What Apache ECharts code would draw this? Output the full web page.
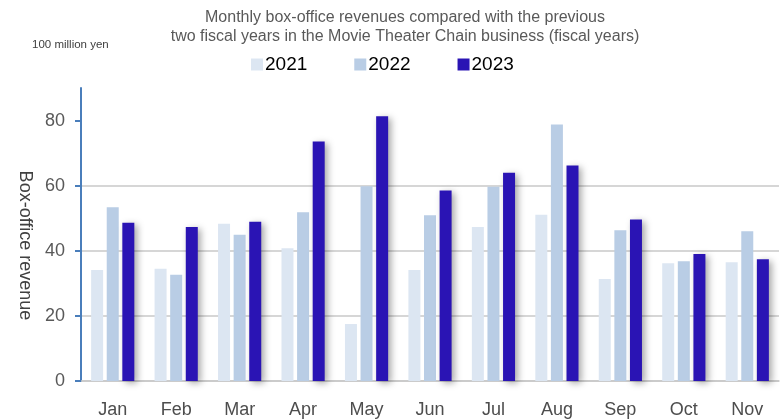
<!DOCTYPE html>
<html>
<head>
<meta charset="utf-8">
<script src="https://cdn.jsdelivr.net/npm/echarts@6/dist/echarts.min.js"></script>
<style>
    html, body { margin: 0; padding: 0; background: #fff; }
    #myChart { width: 781px; height: 419px; }
</style>
</head>
<body>
<div id="myChart"></div>
<script>
    // data (100 million yen)
    const months = ['Jan', 'Feb', 'Mar', 'Apr', 'May', 'Jun', 'Jul', 'Aug', 'Sep', 'Oct', 'Nov'];
    const years = ['2021', '2022', '2023'];
    const fy2021 = [34.1, 34.5, 48.3, 40.8, 17.5, 34.1, 47.3, 51.1, 31.3, 36.2, 36.5];
    const fy2022 = [53.4, 32.6, 44.9, 51.8, 59.8, 50.9, 59.7, 78.8, 46.3, 36.8, 46.0];
    const fy2023 = [48.6, 47.3, 48.9, 73.6, 81.3, 58.5, 64.0, 66.2, 49.6, 39.0, 37.4];
    const yTicks = [0, 20, 40, 60, 80];

    const font = 'Liberation Sans, Arial, sans-serif';
    const colors = ['#dce6f2', '#b9cde5', '#2a14b4'];

    let myChart = echarts.init(document.getElementById('myChart'));
    myChart.setOption({
        animation: false,
        textStyle: { fontFamily: font },
        title: [
            {
                text: 'Monthly box-office revenues compared with the previous\ntwo fiscal years in the Movie Theater Chain business (fiscal years)',
                left: 400,
                top: 3,
                textAlign: 'center',
                textStyle: { fontSize: 16, fontWeight: 'normal', color: '#595959', lineHeight: 19, fontFamily: font }
            },
            {
                text: '100 million yen',
                left: 27,
                top: 34,
                textStyle: { fontSize: 11.5, fontWeight: 'normal', color: '#404040', fontFamily: font }
            }
        ],
        legend: {
            data: years,
            left: 246,
            top: 50,
            itemWidth: 12,
            itemHeight: 12,
            itemGap: 47,
            icon: 'rect',
            textStyle: { fontSize: 19, color: '#000', padding: [0, 0, 0, -3] }
        },
        grid: { left: 81, right: 2, top: 88, bottom: 37 },
        xAxis: {
            type: 'category',
            data: months,
            axisLine: { lineStyle: { color: '#c8c8c8', width: 1.5 } },
            axisTick: { show: false },
            axisLabel: { fontSize: 18, color: '#4d4d4d', margin: 20 }
        },
        yAxis: {
            type: 'value',
            min: 0,
            max: 90,
            interval: 20,
            name: 'Box-office revenue',
            nameLocation: 'middle',
            nameRotate: -90,
            nameGap: 44,
            nameTextStyle: { fontSize: 18, color: '#404040', padding: [0, 0, 0, 22] },
            axisLine: { show: true, lineStyle: { color: '#4a7ebb', width: 2 } },
            axisTick: { show: true, length: 6, lineStyle: { color: '#4a7ebb', width: 2 }, customValues: yTicks },
            axisLabel: { fontSize: 18, color: '#595959', margin: 16, customValues: yTicks },
            splitLine: { show: true, showMaxLine: false, lineStyle: { color: '#c8c8c8', width: 1.5 } }
        },
        series: [
            {
                name: years[0], type: 'bar', data: fy2021,
                barWidth: 12, barGap: '30%',
                itemStyle: { color: colors[0] }
            },
            {
                name: years[1], type: 'bar', data: fy2022,
                barWidth: 12, barGap: '30%',
                itemStyle: { color: colors[1] }
            },
            {
                name: years[2], type: 'bar', data: fy2023,
                barWidth: 12, barGap: '30%',
                itemStyle: {
                    color: colors[2],
                    shadowColor: 'rgba(0,0,0,0.35)',
                    shadowBlur: 7,
                    shadowOffsetX: 3,
                    shadowOffsetY: 2
                }
            }
        ]
    });
</script>
</body>
</html>
